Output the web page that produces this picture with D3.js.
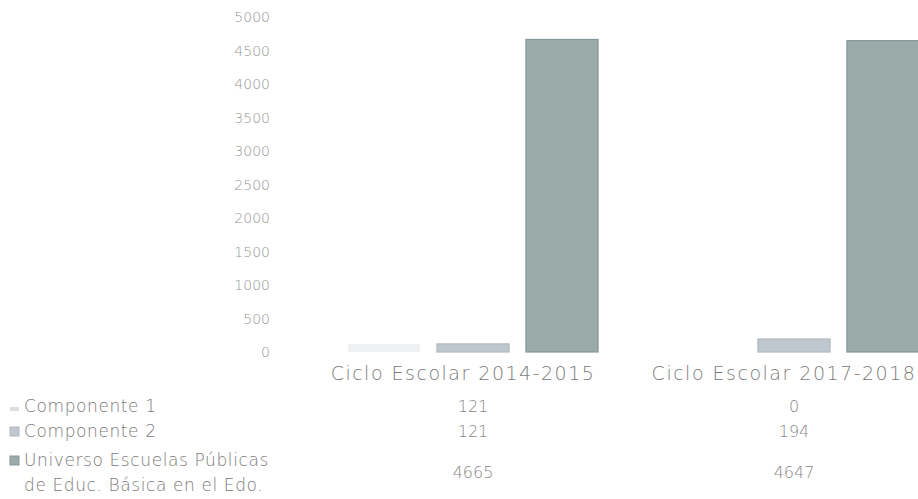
<!DOCTYPE html>
<html><head><meta charset="utf-8">
<script src="https://cdn.jsdelivr.net/npm/d3@7"></script>
<style>
body{margin:0;background:#fff;}
text{font-family:"DejaVu Sans","Noto Sans",sans-serif;font-weight:200;}
</style></head>
<body>
<svg id="c" width="918" height="499"></svg>
<script>
const categories = ["Ciclo Escolar 2014-2015", "Ciclo Escolar 2017-2018"];
const seriesNames = ["Componente 1", "Componente 2", "Universo Escuelas Públicas|de Educ. Básica en el Edo."];
const componente1 = [121, 0];
const componente2 = [121, 194];
const universo = [4665, 4647];
const yTicks = [0, 500, 1000, 1500, 2000, 2500, 3000, 3500, 4000, 4500, 5000];

const seriesValues = [componente1, componente2, universo];
const fills = ["#eef0f2", "#c0c7cf", "#9aabaa"];
const strokes = ["none", "#b0b8c0", "#84969a"];

const svg = d3.select("#c");
const y = d3.scaleLinear().domain([0, 5000]).range([352, 17]);
const x0 = d3.scaleBand().domain(categories).range([313, 954]).paddingInner(0.221).paddingOuter(0.109);
const x1 = d3.scaleBand().domain(d3.range(seriesNames.length)).range([0, x0.bandwidth()]).paddingInner(0.19);

// y axis
const yAxis = d3.axisLeft(y).tickValues(yTicks).tickFormat(d3.format("d")).tickSize(0).tickPadding(0);
const ga = svg.append("g").attr("transform", "translate(270,0)").call(yAxis);
ga.select(".domain").remove();
ga.selectAll("text").attr("fill", "#969696").style("font-size", "14px").style("font-family", "DejaVu Sans").style("font-weight", "200").attr("dy", "0.35em");

// bars
categories.forEach((c, ci) => {
  seriesValues.forEach((vals, si) => {
    const v = vals[ci];
    if (v <= 0) return;
    svg.append("rect")
      .attr("x", x0(c) + x1(si))
      .attr("y", y(v))
      .attr("width", x1.bandwidth())
      .attr("height", y(0) - y(v))
      .attr("fill", fills[si])
      .attr("stroke", strokes[si])
      .attr("stroke-width", 1.2);
  });
});

// category labels
svg.selectAll("text.cat").data(categories).enter().append("text")
  .attr("class", "cat")
  .attr("x", d => x0(d) + x0.bandwidth() / 2 - 10)
  .attr("y", 380)
  .attr("text-anchor", "middle")
  .attr("fill", "#7a7a7a")
  .style("font-size", "19px")
  .style("letter-spacing", "1.5px")
  .text(d => d);

// data table rows
const rowY = [412, 437, 478];
const legY = [412, 437, 466];
seriesNames.forEach((name, si) => {
  const lines = name.split("|");
  const ty = legY[si];
  svg.append("rect").attr("x", 10).attr("y", ty - 10).attr("width", 9).attr("height", si === 0 ? 4 : 9)
    .attr("transform", si === 0 ? "translate(0,5)" : null)
    .attr("fill", si === 0 ? "#dcdfe2" : fills[si]).attr("stroke", si === 0 ? "none" : strokes[si]);
  lines.forEach((ln, li) => {
    svg.append("text").attr("x", 24).attr("y", ty + li * 25)
      .attr("fill", "#7a7a7a").style("font-size", "17px").style("letter-spacing", "0.6px").text(ln);
  });
  categories.forEach((c, ci) => {
    svg.append("text")
      .attr("x", x0(c) + x0.bandwidth() / 2)
      .attr("y", rowY[si])
      .attr("text-anchor", "middle")
      .attr("fill", "#888")
      .style("font-size", "16px")
      .text(seriesValues[si][ci]);
  });
});
</script>
</body></html>
